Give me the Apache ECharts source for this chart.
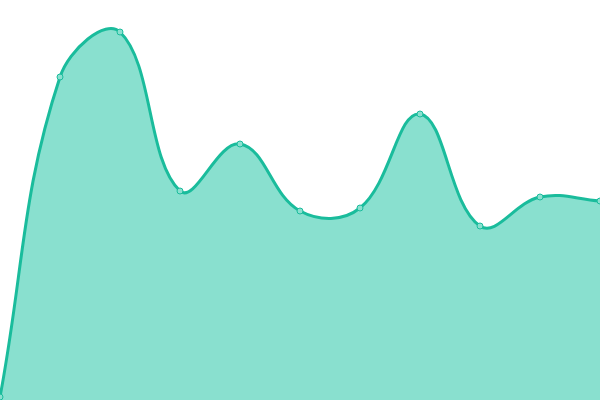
<!DOCTYPE html>
<html style="height: 100%">
<head>
    <meta charset="utf-8">
    <script type="text/javascript" src="https://cdn.jsdelivr.net/npm/echarts@6/dist/echarts.min.js"></script>
</head>
<body style="height: 100%; margin: 0">
<div id="container" style="width:600px;height:400px"></div>

<script type="text/javascript">
    var categories = ['1', '2', '3', '4', '5', '6', '7', '8', '9', '10', '11'];
    var values = [3, 323, 368, 209, 256, 189, 192, 286, 174, 203, 199];

    var tension = 0.4;

    // cardinal spline through all points, drawn once from the first item
    function renderCurve(params, api) {
        if (params.dataIndex !== 0) return null;
        var cs = params.coordSys;
        var top = cs.y, bottom = cs.y + cs.height;
        var pts = values.map(function (v, i) {
            return api.coord([i, v]);
        });
        var clampY = function (y) {
            return Math.max(top, Math.min(bottom, y));
        };
        var cps = pts.map(function (p, i) {
            var prev = pts[i - 1] || p, next = pts[i + 1] || p;
            var d01 = Math.hypot(p[0] - prev[0], p[1] - prev[1]);
            var d12 = Math.hypot(next[0] - p[0], next[1] - p[1]);
            var sum = d01 + d12 || 1;
            var fa = tension * d01 / sum, fb = tension * d12 / sum;
            var dx = next[0] - prev[0], dy = next[1] - prev[1];
            return {
                inX: p[0] - fa * dx, inY: clampY(p[1] - fa * dy),
                outX: p[0] + fb * dx, outY: clampY(p[1] + fb * dy)
            };
        });
        var d = 'M' + pts[0][0] + ' ' + pts[0][1];
        for (var i = 1; i < pts.length; i++) {
            d += ' C' + cps[i - 1].outX + ' ' + cps[i - 1].outY + ' ' +
                cps[i].inX + ' ' + cps[i].inY + ' ' + pts[i][0] + ' ' + pts[i][1];
        }
        var last = pts[pts.length - 1];
        var area = d + ' L' + last[0] + ' ' + bottom + ' L' + pts[0][0] + ' ' + bottom + ' Z';
        return {
            type: 'group',
            children: [{
                type: 'path',
                shape: {pathData: area},
                style: {fill: '#89e0cf', stroke: null}
            }, {
                type: 'path',
                shape: {pathData: d},
                style: {fill: null, stroke: '#1abc9c', lineWidth: 3, lineJoin: 'round', lineCap: 'round'}
            }]
        };
    }

    var myChart = echarts.init(document.getElementById('container'));
    var option = {
        animation: false,
        grid: {left: 0, right: 0, top: 0, bottom: 0},
        xAxis: {
            type: 'category',
            boundaryGap: false,
            data: categories,
            show: false
        },
        yAxis: {
            type: 'value',
            min: 0,
            max: 400,
            show: false
        },
        series: [{
            type: 'custom',
            renderItem: renderCurve,
            data: [[0, values[0]]],
            z: 1
        }, {
            type: 'line',
            data: values,
            symbol: 'circle',
            symbolSize: 6,
            lineStyle: {opacity: 0},
            itemStyle: {color: '#8ae0cf', borderColor: '#1abc9c', borderWidth: 1},
            z: 3
        }]
    };
    myChart.setOption(option);
</script>
</body>
</html>
